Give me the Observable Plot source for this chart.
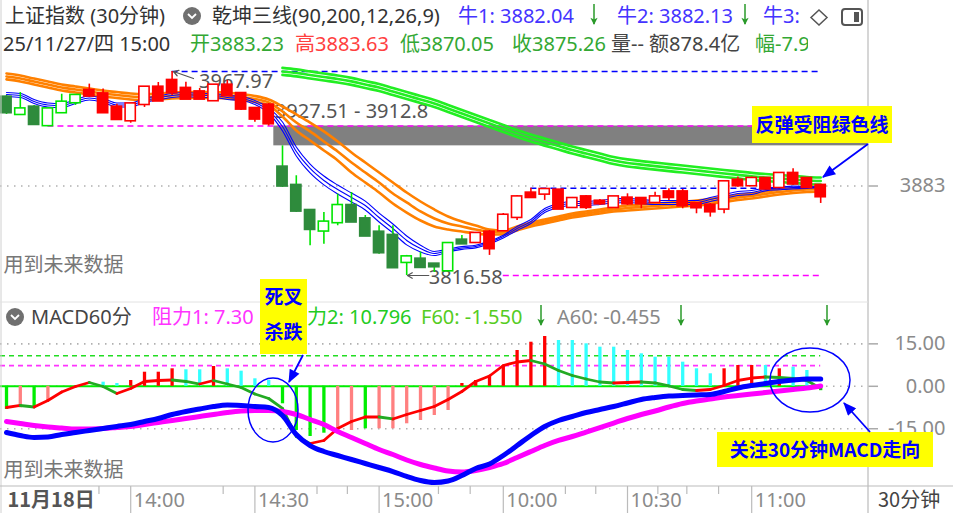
<!DOCTYPE html>
<html><head><meta charset="utf-8">
<script src="https://cdn.jsdelivr.net/npm/d3@7"></script>
<script src="https://cdn.jsdelivr.net/npm/@observablehq/plot@0.6"></script>
<style>
body{margin:0;background:#fff;}
#wrap{position:relative;width:953px;height:513px;overflow:hidden;background:#fff;font-family:"Noto Sans","Noto Sans CJK SC",sans-serif;}
.t{position:absolute;white-space:nowrap;font-size:20px;line-height:24px;font-family:"Noto Sans","Noto Sans CJK SC",sans-serif;}
.clip{position:absolute;overflow:hidden;height:26px;}
</style></head><body><div id="wrap"></div>
<script>
// ---------------- DATA ----------------
const openP  = [3948.7,3936.3,3941.3,3928.0,3937.6,3945.0,3953.7,3951.1,3941.3,3931.6,
  3943.7,3956.1,3961.1,3955.2,3952.6,3946.5,3957.6,3951.4,3940.3,3942.8,
  3896.8,3883.2,3864.6,3849.8,3856.0,3868.3,3858.4,3848.5,3846.1,3826.5,
  3828.5,3824.8,3820.3,3842.6,3841.3,3848.5,3850.0,3859.9,3877.5,3877.2,
  3879.7,3867.3,3874.7,3871.5,3867.3,3873.8,3873.5,3871.0,3878.4,3878.4,
  3869.8,3868.5,3866.1,3887.1,3883.4,3888.4,3882.1,3892.1,3888.4,3883.23];
const highP  = [3950.2,3952.4,3942.8,3940.5,3951.1,3950.3,3958.6,3954.9,3943.7,3944.2,
  3956.8,3959.8,3967.97,3960.0,3955.4,3958.3,3961.3,3952.4,3941.3,3944.2,
  3912.8,3890.6,3865.6,3863.4,3877.0,3878.2,3861.1,3853.5,3853.5,3831.5,
  3833.9,3825.5,3841.1,3846.3,3848.5,3850.0,3862.6,3876.0,3881.3,3880.4,
  3880.4,3874.5,3876.0,3873.0,3875.2,3877.2,3873.8,3878.4,3881.0,3880.4,
  3870.0,3870.0,3887.1,3889.6,3889.6,3889.3,3893.0,3895.8,3888.6,3883.63];
const lowP   = [3936.1,3936.1,3927.9,3927.6,3936.8,3942.8,3948.7,3937.2,3931.6,3929.6,
  3941.3,3945.7,3950.2,3947.2,3947.2,3945.7,3949.4,3939.0,3930.4,3927.51,
  3881.9,3863.4,3838.7,3839.8,3853.5,3855.9,3845.6,3832.4,3822.2,3816.58,
  3822.2,3818.8,3819.5,3839.6,3840.3,3831.5,3849.2,3857.4,3874.3,3872.3,
  3865.6,3866.8,3865.6,3868.5,3866.8,3868.5,3866.1,3870.8,3872.3,3866.1,
  3862.4,3859.9,3862.4,3882.1,3883.0,3880.8,3881.9,3883.4,3881.3,3870.05];
const closeP = [3937.6,3940.0,3928.9,3940.0,3945.0,3950.0,3950.0,3937.6,3932.6,3943.7,
  3956.1,3946.3,3952.4,3947.7,3947.7,3957.6,3950.2,3940.3,3932.9,3929.4,
  3883.2,3864.6,3851.0,3856.0,3868.3,3856.5,3846.1,3833.7,3822.6,3830.2,
  3822.8,3823.3,3840.1,3840.3,3847.6,3836.7,3861.1,3874.7,3874.7,3880.2,
  3866.1,3873.5,3867.3,3870.0,3874.7,3870.0,3870.0,3874.7,3874.7,3868.5,
  3867.1,3864.1,3885.9,3883.4,3888.4,3881.0,3892.1,3884.7,3882.1,3875.26];
// trend colour state of each candle: g = green, r = red
const trendState = "ggggggrrrrrrrrrrrrrrggggggggggggggrrrrrrrrrrrrrrrrrrrrrrrrrr".split("");

// 乾坤三线: short (blue), middle (orange), long (green) — three lines each
const blue1 = [3952.4,3951.7,3947.2,3944.6,3944.2,3947.2,3949.8,3948.0,3944.6,3944.6,
  3948.0,3949.8,3951.7,3952.4,3951.7,3951.7,3950.2,3949.4,3946.5,3941.0,
  3930.5,3911.9,3899.3,3890.4,3883.7,3877.8,3871.8,3862.9,3854.8,3845.9,
  3839.1,3834.4,3836.2,3838.0,3839.1,3842.1,3846.5,3853.0,3858.2,3866.3,
  3870.0,3871.5,3871.5,3872.3,3873.4,3873.8,3873.0,3872.3,3872.3,3872.3,
  3872.3,3874.5,3876.7,3878.9,3879.7,3881.4,3882.2,3882.9,3882.6,3882.5];
const blue2 = [3950.9,3950.2,3945.7,3943.1,3942.7,3945.7,3948.3,3946.5,3943.1,3943.1,
  3946.5,3948.3,3950.2,3950.9,3950.2,3950.2,3948.7,3947.9,3945.0,3939.0,
  3927.2,3908.6,3896.0,3887.1,3880.4,3874.5,3868.5,3859.6,3851.5,3842.6,
  3836.6,3832.9,3835.2,3837.0,3838.1,3841.1,3845.5,3851.5,3856.7,3864.8,
  3868.5,3870.0,3870.0,3870.8,3871.9,3872.3,3871.5,3870.8,3870.8,3870.8,
  3870.8,3873.0,3875.2,3877.4,3878.2,3880.4,3881.2,3881.9,3881.9,3882.13];
const blue3 = [3949.4,3948.7,3944.2,3941.6,3941.2,3944.2,3946.8,3945.0,3941.6,3941.6,
  3945.0,3946.8,3948.7,3949.4,3948.7,3948.7,3947.2,3946.4,3943.5,3937.0,
  3923.9,3905.3,3892.7,3883.8,3877.1,3871.2,3865.2,3856.3,3848.2,3839.3,
  3834.1,3831.4,3834.2,3836.0,3837.1,3840.1,3844.5,3850.0,3855.2,3863.3,
  3867.0,3868.5,3868.5,3869.3,3870.4,3870.8,3870.0,3869.3,3869.3,3869.3,
  3869.3,3871.5,3873.7,3875.9,3876.7,3879.4,3880.2,3880.9,3881.2,3882.04];
const orange1 = [3966.5,3965.0,3962.7,3960.5,3958.3,3956.8,3955.3,3953.8,3952.7,3951.6,
  3951.2,3951.6,3952.4,3952.7,3952.7,3952.7,3952.4,3951.2,3949.8,3947.2,
  3942.0,3936.1,3930.1,3923.5,3916.0,3907.9,3900.4,3893.0,3885.6,3878.2,
  3871.5,3865.6,3860.4,3856.7,3853.7,3850.7,3850.0,3853.0,3855.9,3858.2,
  3860.4,3862.6,3864.1,3865.6,3867.1,3868.5,3869.3,3870.0,3870.8,3871.5,
  3872.3,3873.4,3874.9,3876.3,3877.4,3878.9,3880.4,3881.5,3882.2,3882.6];
const orange2 = [3964.3,3962.8,3960.5,3958.3,3956.1,3954.6,3953.1,3951.6,3950.5,3949.4,
  3949.0,3949.4,3950.2,3950.5,3950.5,3950.5,3950.2,3949.0,3947.6,3945.0,
  3938.3,3930.1,3923.5,3916.0,3908.6,3900.4,3893.0,3885.6,3877.4,3870.8,
  3864.1,3858.9,3855.2,3853.0,3850.7,3849.2,3848.5,3851.5,3854.4,3856.7,
  3858.9,3861.1,3862.6,3864.1,3865.6,3866.7,3867.4,3868.2,3868.9,3869.7,
  3870.4,3871.5,3873.0,3874.5,3875.6,3877.1,3878.5,3879.7,3880.4,3880.8];
const orange3 = [3962.1,3960.6,3958.3,3956.1,3953.9,3952.4,3950.9,3949.4,3948.3,3947.2,
  3946.8,3947.2,3948.0,3948.3,3948.3,3948.3,3948.0,3946.8,3945.4,3942.8,
  3934.6,3924.2,3916.8,3909.4,3902.0,3893.0,3885.6,3878.2,3870.0,3863.3,
  3857.4,3853.0,3850.7,3849.2,3847.8,3847.0,3847.0,3850.0,3853.0,3855.2,
  3857.4,3859.6,3861.1,3862.6,3864.1,3864.8,3865.6,3866.3,3867.1,3867.8,
  3868.5,3869.7,3871.1,3872.6,3873.7,3875.2,3876.7,3877.8,3878.5,3878.9];
const green1 = [null,null,null,null,null,null,null,null,null,null,
  null,null,null,null,null,null,null,null,null,null,
  3970.6,3969.5,3968.0,3966.5,3965.0,3963.2,3960.9,3958.7,3955.7,3952.8,
  3949.8,3946.8,3943.1,3939.4,3935.7,3932.0,3928.3,3924.5,3921.2,3918.2,
  3915.3,3912.3,3909.7,3907.1,3904.5,3902.7,3901.5,3900.4,3899.3,3898.2,
  3897.1,3896.0,3894.9,3893.8,3892.7,3891.9,3891.2,3890.4,3889.7,3889.3];
const green2 = [null,null,null,null,null,null,null,null,null,null,
  null,null,null,null,null,null,null,null,null,null,
  3967.97,3966.9,3965.4,3963.9,3962.4,3960.6,3958.3,3956.1,3953.1,3950.2,
  3947.2,3944.2,3940.5,3936.8,3933.1,3929.4,3925.7,3921.9,3918.6,3915.6,
  3912.7,3909.7,3907.1,3904.5,3901.9,3900.1,3898.9,3897.8,3896.7,3895.6,
  3894.5,3893.4,3892.3,3891.2,3890.1,3889.3,3888.6,3887.8,3887.1,3886.72];
const green3 = [null,null,null,null,null,null,null,null,null,null,
  null,null,null,null,null,null,null,null,null,null,
  3965.4,3964.3,3962.8,3961.3,3959.8,3958.0,3955.7,3953.5,3950.5,3947.6,
  3944.6,3941.6,3937.9,3934.2,3930.5,3926.8,3923.1,3919.3,3916.0,3913.0,
  3910.1,3907.1,3904.5,3901.9,3899.3,3897.5,3896.3,3895.2,3894.1,3893.0,
  3891.9,3890.8,3889.7,3888.6,3887.5,3886.7,3886.0,3885.2,3884.5,3884.1];

// price gap and horizontal levels
const gapFrom = 19, gapTop = 3927.51, gapBottom = 3912.8;
const levelValues = [3967.97, 3927.51, 3881.3, 3816.58];
const levelFrom   = [12, 3, 38, 36];
const levelColors = ["#0000ff", "#ff00ff", "#0000ff", "#ff00ff"];
const priceTick = [3883];

// MACD60分
const difP = [-16.33,-17.39,-18.09,-17.92,-17.03,-16.33,-15.62,-14.91,-14.20,-13.50,
  -12.44,-11.38,-9.96,-8.90,-8.02,-7.14,-6.61,-6.78,-7.14,-7.49,
  -10.32,-17.03,-20.92,-23.04,-24.45,-25.87,-27.28,-28.69,-30.11,-31.87,
  -33.29,-33.99,-33.46,-31.52,-29.05,-27.46,-24.45,-20.92,-17.39,-14.20,
  -12.08,-10.67,-9.26,-8.20,-7.14,-5.90,-4.66,-3.96,-3.43,-3.25,
  -3.07,-2.90,-1.84,-0.60,0.28,0.99,1.70,2.23,2.58,2.58];
const deaP = [-12.44,-13.14,-13.85,-14.38,-14.73,-15.09,-15.09,-14.91,-14.56,-14.20,
  -13.50,-12.79,-12.08,-11.38,-10.67,-9.96,-9.26,-8.73,-8.55,-8.55,
  -8.90,-9.96,-11.73,-13.50,-15.97,-18.09,-20.21,-22.33,-24.10,-26.04,
  -27.63,-28.87,-29.93,-30.28,-29.75,-28.69,-27.28,-25.16,-23.04,-20.92,
  -19.15,-17.74,-16.15,-14.56,-12.97,-11.38,-9.96,-8.73,-7.31,-6.08,
  -5.19,-4.49,-3.78,-3.25,-2.72,-2.19,-1.66,-1.13,-0.60,0.11];
const histP = [-8.20,-7.60,-7.60,-5.02,0,0,0,1.45,1.00,2.05,
  4.98,4.98,6.18,5.83,5.83,7.00,6.18,5.34,2.65,2.05,
  -6.18,-15.62,-17.74,-16.57,-15.62,-15.62,-15.02,-15.02,-15.02,-13.25,
  -12.08,-10.32,-8.55,1.00,2.05,3.82,7.35,12.65,15.58,17.60,
  16.18,16.18,15.02,13.82,13.82,12.65,11.48,10.28,10.28,8.52,
  6.18,4.42,6.18,7.35,7.35,7.35,6.18,6.75,5.58,-1.55];
// bar colour: g green, s salmon, r red, c cyan
const histColor = "gsgsgggccrrrrccrcccc" + "ggggssgssssss" + "rrrrrrr" + "cccccccccccc" + "rrrcrccg";
const f60Line = [-7.49,-6.78,-7.31,-5.02,-2.01,-0.07,1.34,-0.07,-2.54,-0.78,
  1.70,2.05,2.23,1.70,0.81,2.05,0.81,-0.42,-2.72,-4.31,
  -7.84,-17.74,-20.21,-19.15,-14.91,-12.44,-10.85,-10.85,-11.55,-9.96,
  -8.55,-7.14,-4.66,-1.84,1.70,3.64,7.35,8.59,9.12,7.88,
  5.58,3.82,2.58,1.52,1.17,1.34,1.52,1.17,0.11,-1.13,
  -1.48,-1.13,0.28,2.05,2.93,3.29,3.11,2.76,2.05,-0.78];
const resistValues = [7.30, 10.796];
const resistLabels = ["7.30", "10.796"];
const resistColors = ["#ff33ff", "#22dd22"];
const macdTicks = [15, 0, -15];

// time axis
const axisLabelIdx = [0, 9, 18, 27, 36, 45, 54];
const axisLabels   = ["11月18日", "14:00", "14:30", "15:00", "10:00", "10:30", "11:00"];
const minorTickIdx = [6.7, 15.7, 22.5, 24.7, 31.3, 33.6, 40.5, 42.7, 47.2, 49.3, 51.6];

// ---------------- LAYOUT ----------------
const PW = 868;
const X0 = -0.435, X1 = 62.464;
const unit = (X1 - X0) / PW;
const BW = 0.37;
const FONT = '"Noto Sans","Noto Sans CJK SC",sans-serif';
const wrap = document.getElementById("wrap");
const idx = d3.range(openP.length);

function place(el, top, left) {
  el.style.position = "absolute"; el.style.top = top + "px"; el.style.left = left + "px";
  wrap.appendChild(el); return el;
}

// ---------------- MAIN CHART ----------------
const candles = idx.map(i => ({i, o: openP[i], h: highP[i], l: lowP[i], c: closeP[i], s: trendState[i]}));
const up = d => d.c > d.o;
const levels = levelValues.map((v, k) => ({v, from: levelFrom[k], to: 59, color: levelColors[k]}));
const lineMark = (arr, color, w) => Plot.line(idx.filter(i => arr[i] != null), {x: i => i, y: i => arr[i], stroke: color, strokeWidth: w, curve: "monotone-x"});
const hiIdx = highP.indexOf(d3.max(highP));
const loIdx = lowP.indexOf(d3.min(lowP));

const mainPlot = Plot.plot({
  width: PW, height: 245,
  marginTop: 0, marginBottom: 0, marginLeft: 0, marginRight: 0,
  x: {type: "linear", domain: [X0, X1], axis: null},
  y: {domain: [3798.04, 3979.843], axis: null},
  style: {background: "transparent", overflow: "visible", fontFamily: FONT},
  marks: [
    Plot.rect([{from: gapFrom, top: gapTop, bottom: gapBottom}], {x1: d => d.from + BW, x2: X1, y1: "top", y2: "bottom", fill: "#808080"}),
    Plot.ruleY(priceTick, {stroke: "#b0b0b0", strokeDasharray: "1.5,5.5", strokeWidth: 1.6}),
    Plot.ruleY(priceTick, {x1: X1, x2: X1 + 10 * unit, stroke: "#aaa", strokeWidth: 1.5}),
    Plot.text(priceTick, {y: d => d, x: X1, dx: 77, text: d => String(d), textAnchor: "end", fontSize: 20, fill: "#8a8a8a"}),
    Plot.ruleY(levels, {y: "v", x1: "from", x2: "to", stroke: "color", strokeDasharray: "6,4", strokeWidth: 1.6}),
    Plot.text([{i: hiIdx, v: highP[hiIdx]}], {x: "i", y: "v", text: d => d.v.toFixed(2), dx: 27, dy: 10, textAnchor: "start", fontSize: 20, fill: "#555"}),
    Plot.arrow([{i: hiIdx, v: highP[hiIdx]}], {x1: d => d.i + 1.55, y1: d => d.v - 5.2, x2: d => d.i + 0.1, y2: d => d.v, stroke: "#555", strokeWidth: 1.2, headLength: 7}),
    Plot.text([{from: gapFrom, top: gapTop, bottom: gapBottom}], {x: d => d.from + BW, y: "top", text: d => `${d.top} - ${d.bottom}`, dx: 1, dy: -14, textAnchor: "start", fontSize: 20, fill: "#555"}),
    Plot.text([{i: loIdx, v: lowP[loIdx]}], {x: "i", y: "v", text: d => d.v.toFixed(2), dx: 22, dy: 2, textAnchor: "start", fontSize: 20, fill: "#555"}),
    Plot.arrow([{i: loIdx, v: lowP[loIdx]}], {x1: d => d.i + 1.6, y1: "v", x2: d => d.i + 0.05, y2: "v", stroke: "#555", strokeWidth: 1.2, headLength: 7}),
    Plot.text(["用到未来数据"], {frameAnchor: "bottom-left", lineAnchor: "middle", dx: 3, dy: -35, fontSize: 20, fill: "#777", fontFamily: '"Noto Sans CJK SC",sans-serif'}),
    lineMark(green1, "#22ee22", 2.7), lineMark(green2, "#22ee22", 2.7), lineMark(green3, "#22ee22", 2.7),
    lineMark(orange1, "#ff8000", 2.6), lineMark(orange2, "#ff8000", 2.6), lineMark(orange3, "#ff8000", 2.6),
    lineMark(blue1, "#0000ff", 1.1), lineMark(blue2, "#0000ff", 1.1), lineMark(blue3, "#0000ff", 1.1),
    Plot.ruleX(candles, {x: "i", y1: "l", y2: "h", stroke: d => d.s === "r" ? "#ff0000" : "#00e600", strokeWidth: 1.6}),
    Plot.rect(candles, {x1: d => d.i - BW, x2: d => d.i + BW, y1: "o", y2: "c",
      fill: d => up(d) ? "#ffffff" : (d.s === "r" ? "#ff0000" : "#2e8b3c"),
      stroke: d => d.s === "r" ? "#ff0000" : (up(d) ? "#00e600" : "#2e8b3c"),
      strokeWidth: 1.6, insetTop: -0.8, insetBottom: -0.8})
  ]
});
place(mainPlot, 55, 0);

// ---------------- MACD ----------------
const bars = idx.filter(i => histP[i] !== 0).map(i => ({i, v: histP[i], c: histColor[i]}));
const barColor = {g: "#00ee00", s: "#ff8080", r: "#ff0000", c: "#33ffff"};
const segs = d3.range(f60Line.length - 1).map(i => ({a: i, b: i + 1, ya: f60Line[i], yb: f60Line[i + 1], rising: f60Line[i + 1] >= f60Line[i]}));
const resist = resistValues.map((v, k) => ({v, color: resistColors[k]}));

const macdPlot = Plot.plot({
  width: PW, height: 156,
  marginTop: 0, marginBottom: 0, marginLeft: 0, marginRight: 0,
  x: {type: "linear", domain: [X0, X1], axis: null},
  y: {domain: [-35.406, 19.717], axis: null},
  style: {background: "transparent", overflow: "visible", fontFamily: FONT},
  marks: [
    Plot.ruleY(macdTicks, {stroke: "#b0b0b0", strokeDasharray: "1.5,5.5", strokeWidth: 1.6}),
    Plot.ruleY(macdTicks, {x1: X1, x2: X1 + 10 * unit, stroke: "#aaa", strokeWidth: 1.5}),
    Plot.text(macdTicks, {y: d => d, x: X1, dx: 77, text: d => d.toFixed(2), textAnchor: "end", fontSize: 20, fill: "#8a8a8a"}),
    Plot.ruleY(resist, {y: "v", x1: X0, x2: 59, stroke: "color", strokeDasharray: "5,4", strokeWidth: 1.6}),
    Plot.ruleY([0], {x1: X0, x2: 59, stroke: "#00ee00", strokeWidth: 2}),
    Plot.ruleX(bars, {x: "i", y1: 0, y2: "v", stroke: d => barColor[d.c], strokeWidth: 3.3}),
    Plot.link(segs, {x1: "a", y1: "ya", x2: "b", y2: "yb", stroke: d => d.rising ? "#ff0000" : "#22aa22", strokeWidth: 2.8, strokeLinecap: "round"}),
    Plot.text(["用到未来数据"], {frameAnchor: "bottom-left", lineAnchor: "middle", dx: 3, dy: -16, fontSize: 20, fill: "#777", fontFamily: '"Noto Sans CJK SC",sans-serif'}),
    Plot.line(idx, {x: i => i, y: i => deaP[i], stroke: "#ff00ff", strokeWidth: 5, curve: "monotone-x"}),
    Plot.line(idx, {x: i => i, y: i => difP[i], stroke: "#0000ff", strokeWidth: 5, curve: "monotone-x"})
  ]
});
place(macdPlot, 330, 0);

// ---------------- TIME AXIS ----------------
const axisRows = axisLabelIdx.map((i, k) => ({i, label: axisLabels[k]}));
const axisPlot = Plot.plot({
  width: PW, height: 27,
  marginTop: 0, marginBottom: 0, marginLeft: 0, marginRight: 0,
  x: {type: "linear", domain: [X0, X1], axis: null},
  style: {background: "transparent", overflow: "visible", fontFamily: FONT},
  marks: [
    Plot.tickX(axisRows.slice(1), {x: "i", stroke: "#bbb", strokeWidth: 1.2}),
    Plot.tickX(minorTickIdx, {x: d => d, stroke: "#bbb", strokeWidth: 1.2, insetBottom: 19}),
    Plot.text(axisRows.slice(1), {x: "i", text: "label", frameAnchor: "middle", textAnchor: "start", dx: 3, dy: 1, fontSize: 20, fill: "#8a8a8a"}),
    Plot.text(axisRows.slice(0, 1), {x: "i", text: "label", frameAnchor: "middle", textAnchor: "start", dx: 1, dy: 1, fontSize: 20, fill: "#555", fontWeight: 600, fontFamily: '"Noto Sans CJK SC",sans-serif'})
  ]
});
place(axisPlot, 486, 0);

// ---------------- FRAME LINES / HEADER / ANNOTATIONS ----------------
const ns = "http://www.w3.org/2000/svg";
const over = document.createElementNS(ns, "svg");
over.setAttribute("width", 953); over.setAttribute("height", 513);
over.style.position = "absolute"; over.style.left = "0"; over.style.top = "0"; over.style.pointerEvents = "none";
over.innerHTML = `
<defs>
 <marker id="bh" viewBox="0 0 12 10" refX="11" refY="5" markerWidth="14" markerHeight="11" orient="auto" markerUnits="userSpaceOnUse"><path d="M0,0 L12,5 L0,10 Z" fill="#0000ff"/></marker>
 <marker id="gh" viewBox="0 0 10 10" refX="5" refY="9" markerWidth="9" markerHeight="9" orient="0" markerUnits="userSpaceOnUse"><path d="M1,2 L5,10 L9,2 L5,4 Z" fill="#2a9a2a"/></marker>
</defs>
<line x1="868" y1="0" x2="868" y2="513" stroke="#c8c8c8" stroke-width="1.5"/>
<line x1="1" y1="0" x2="1" y2="513" stroke="#d0d0d0" stroke-width="1"/>
<line x1="0" y1="486" x2="953" y2="486" stroke="#bbb" stroke-width="1.2"/>
<line x1="0" y1="302" x2="868" y2="302" stroke="#e2e2e2" stroke-width="1"/>
<circle cx="192" cy="16" r="9" fill="#707070"/>
<path d="M188,14 L192,18 L196,14" stroke="#fff" stroke-width="1.8" fill="none"/>
<circle cx="15" cy="317" r="9" fill="#707070"/>
<path d="M11,315 L15,319 L19,315" stroke="#fff" stroke-width="1.8" fill="none"/>
<line x1="594" y1="4" x2="594" y2="24" stroke="#2a9a2a" stroke-width="1.5" marker-end="url(#gh)"/>
<line x1="745" y1="4" x2="745" y2="24" stroke="#2a9a2a" stroke-width="1.5" marker-end="url(#gh)"/>
<line x1="541" y1="305" x2="541" y2="325" stroke="#2a9a2a" stroke-width="1.5" marker-end="url(#gh)"/>
<line x1="681" y1="305" x2="681" y2="325" stroke="#2a9a2a" stroke-width="1.5" marker-end="url(#gh)"/>
<line x1="827" y1="305" x2="827" y2="325" stroke="#2a9a2a" stroke-width="1.5" marker-end="url(#gh)"/>
<path d="M819,10 L827,17.5 L819,25 L811,17.5 Z" fill="none" stroke="#555" stroke-width="1.5"/>
<rect x="842" y="9" width="20" height="16" rx="3" fill="none" stroke="#555" stroke-width="2"/>
<rect x="854" y="12" width="5" height="10" fill="#555"/>
<rect x="752" y="106" width="140" height="37" fill="#ffff00"/>
<text x="822" y="132" text-anchor="middle" font-family="Noto Sans CJK SC" font-weight="700" font-size="19" fill="#0000ff">反弹受阻绿色线</text>
<line x1="868" y1="144" x2="823" y2="177" stroke="#0000ff" stroke-width="1.8" marker-end="url(#bh)"/>
<rect x="260" y="279" width="47" height="75" fill="#ffff00"/>
<text x="283.5" y="304" text-anchor="middle" font-family="Noto Sans CJK SC" font-weight="700" font-size="19" fill="#0000ff">死叉</text>
<text x="283.5" y="339" text-anchor="middle" font-family="Noto Sans CJK SC" font-weight="700" font-size="19" fill="#0000ff">杀跌</text>
<line x1="303" y1="355" x2="289" y2="382" stroke="#0000ff" stroke-width="1.8" marker-end="url(#bh)"/>
<ellipse cx="273" cy="410" rx="25" ry="32" fill="none" stroke="#0000ff" stroke-width="1.5"/>
<ellipse cx="810" cy="380" rx="40" ry="32" fill="none" stroke="#0000ff" stroke-width="1.5"/>
<rect x="717" y="432" width="216" height="35" fill="#ffff00"/>
<text x="825" y="457" text-anchor="middle" font-family="Noto Sans CJK SC" font-weight="700" font-size="19" fill="#0000ff">关注30分钟MACD走向</text>
<line x1="870" y1="432" x2="844" y2="403" stroke="#0000ff" stroke-width="1.8" marker-end="url(#bh)"/>
`;

function txt(s, left, top, color, extra) {
  const d = document.createElement("div"); d.className = "t"; d.textContent = s;
  d.style.left = left + "px"; d.style.top = top + "px"; d.style.color = color;
  if (extra) Object.assign(d.style, extra);
  wrap.appendChild(d); return d;
}
function clipTxt(s, left, top, width, color) {
  const c = document.createElement("div"); c.className = "clip";
  c.style.left = left + "px"; c.style.top = top + "px"; c.style.width = width + "px";
  const d = document.createElement("div"); d.className = "t"; d.textContent = s; d.style.left = "0"; d.style.top = "0"; d.style.color = color;
  c.appendChild(d); wrap.appendChild(c);
}
const last = openP.length - 1;
// header line 1
txt("上证指数 (30分钟)", 5, 4, "#333");
txt("乾坤三线(90,200,12,26,9)", 212, 4, "#333");
txt("牛1: " + blue3[last].toFixed(2), 458, 4, "#4433ff");
txt("牛2: " + blue2[last].toFixed(2), 617, 4, "#4433ff");
clipTxt("牛3: " + green2[last].toFixed(2), 763, 4, 40, "#4433ff");
// header line 2
txt("25/11/27/四 15:00", 3, 32, "#333");
txt("开" + openP[last].toFixed(2), 190, 32, "#33a833");
txt("高" + highP[last].toFixed(2), 295, 32, "#ff4040");
txt("低" + lowP[last].toFixed(2), 400, 32, "#33a833");
txt("收" + closeP[last].toFixed(2), 512, 32, "#33a833");
txt("量-- 额878.4亿", 611, 32, "#444");
clipTxt("幅-7.90%", 755, 32, 53, "#33a833");
// MACD header
txt("MACD60分", 31, 305, "#444");
txt("阻力1: " + resistLabels[0], 152, 305, "#ff33ff");
txt("阻力2: " + resistLabels[1], 287, 305, "#22cc22");
txt("F60: " + histP[last].toFixed(3), 421, 305, "#55cc22");
txt("A60: -0.455", 557, 305, "#888");
// right bottom
txt("30分钟", 878, 487, "#444", {fontFamily: '"Noto Sans CJK SC",sans-serif'});

wrap.appendChild(over);
</script></body></html>
